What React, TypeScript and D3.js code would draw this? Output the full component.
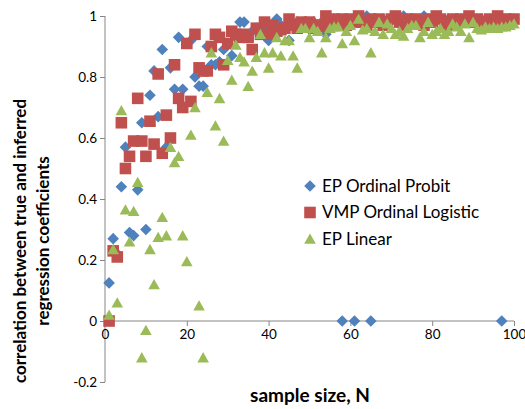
import React, { useRef, useEffect } from 'react';
import * as d3 from 'd3';

// sample sizes N = 1..100
const sampleSizes = d3.range(1, 101);

const epProbit = [
  0.125, 0.27, 0.22, 0.44, 0.57, 0.29, 0.28, 0.43, 0.65, 0.3,
  0.74, 0.82, 0.67, 0.89, 0.57, 0.83, 0.76, 0.93, 0.76, 0.91,
  0.92, 0.8, 0.77, 0.77, 0.9, 0.84, 0.84, 0.85, 0.89, 0.91,
  0.87, 0.93, 0.98, 0.98, 0.93, 0.95, 0.96, 0.95, 0.97, 0.92,
  0.96, 0.99, 0.97, 0.96, 0.92, 0.97, 0.98, 0.97, 0.98, 0.97,
  0.98, 0.97, 0.98, 0.94, 0.98, 0.99, 0.98, 0, 0.98, 0.97,
  0, 0.98, 0.99, 1.0, 0, 0.99, 0.98, 0.99, 0.98, 0.99,
  0.99, 0.98, 1.0, 0.99, 0.98, 0.99, 0.99, 1.0, 0.99, 0.98,
  0.99, 0.99, 0.98, 0.99, 0.99, 0.98, 0.99, 0.99, 0.99, 0.98,
  0.99, 0.99, 0.98, 0.99, 0.99, 0.99, 0, 0.99, 0.99, 0.99,
];

const vmpLogistic = [
  0, 0.23, 0.21, 0.65, 0.5, 0.54, 0.59, 0.73, 0.59, 0.54,
  0.655, 0.58, 0.81, 0.55, 0.675, 0.6, 0.84, 0.73, 0.7, 0.91,
  0.72, 0.94, 0.83, 0.82, 0.82, 0.9, 0.94, 0.93, 0.84, 0.91,
  0.95, 0.94, 0.93, 0.94, 0.93, 0.89, 0.96, 0.94, 0.98, 0.94,
  0.97, 0.95, 0.955, 0.96, 0.99, 0.97, 0.96, 0.98, 0.97, 0.98,
  0.96, 0.97, 0.965, 1.0, 0.98, 0.99, 0.98, 0.99, 0.97, 0.99,
  0.98, 1.0, 0.98, 0.97, 0.99, 0.98, 0.99, 0.97, 0.98, 0.99,
  1.0, 0.98, 0.97, 0.99, 0.98, 0.99, 0.98, 0.97, 0.99, 0.98,
  1.0, 0.99, 0.98, 0.97, 0.99, 0.98, 0.99, 0.98, 1.0, 0.98,
  0.99, 0.97, 0.98, 0.99, 0.98, 1.0, 0.98, 0.99, 0.98, 0.99,
];

const epLinear = [
  0.02, 0.235, 0.06, 0.69, 0.365, 0.26, 0.36, 0.455, -0.12, -0.03,
  0.235, 0.12, 0.275, 0.34, 0.28, 0.57, 0.52, 0.54, 0.28, 0.195,
  0.61, 0.7, 0.05, -0.12, 0.75, 0.88, 0.64, 0.73, 0.59, 0.855,
  0.79, 0.905, 0.865, 0.85, 0.77, 0.82, 0.865, 0.94, 0.88, 0.83,
  0.88, 0.93, 0.87, 0.92, 0.92, 0.87, 0.83, 0.96, 0.96, 0.93,
  0.96, 0.95, 0.88, 0.93, 0.96, 0.965, 0.965, 0.91, 0.95, 0.97,
  0.92, 0.99, 0.955, 0.96, 0.88, 0.95, 0.98, 0.94, 0.975, 0.96,
  0.94, 0.95, 0.935, 0.96, 0.97, 0.97, 0.93, 0.95, 0.98, 0.94,
  0.95, 0.96, 0.94, 0.95, 0.975, 0.965, 0.95, 0.975, 0.93, 0.98,
  0.96, 0.955, 0.965, 0.96, 0.965, 0.96, 0.965, 0.965, 0.97, 0.975,
];

const xTicks = [0, 20, 40, 60, 80, 100];
const yTicks = [-0.2, 0, 0.2, 0.4, 0.6, 0.8, 1];
const yTickLabels = ['-0.2', '0', '0.2', '0.4', '0.6', '0.8', '1'];

const seriesNames = ['EP Ordinal Probit', 'VMP Ordinal Logistic', 'EP Linear'];
const seriesValues = [epProbit, vmpLogistic, epLinear];
const seriesColors = ['#4F81BD', '#C0504D', '#9BBB59'];
const seriesShapes = ['diamond', 'square', 'triangle'];

const FONT = 'Lato, "Open Sans", sans-serif';

const shapePath = (shape: string) => {
  if (shape === 'diamond') return 'M0,-5.8L5.8,0L0,5.8L-5.8,0Z';
  if (shape === 'square') return 'M-5.8,-5.8H5.8V5.8H-5.8Z';
  return 'M0,-5.5L5.8,4.8H-5.8Z';
};

const App = () => {
  const svgRef = useRef<SVGSVGElement>(null);

  useEffect(() => {
    const width = 525;
    const height = 409;
    const svg = d3.select(svgRef.current)
      .attr('width', width)
      .attr('height', height)
      .style('background', 'white');

    svg.selectAll('*').remove();

    const x = d3.scaleLinear().domain([0, 100]).range([105, 514]);
    const y = d3.scaleLinear().domain([-0.2, 1]).range([382, 16]);

    const axisColor = '#868686';

    // y axis
    const yAxis = svg.append('g')
      .attr('transform', `translate(${x(0)},0)`)
      .call(d3.axisLeft(y).tickValues(yTicks).tickSize(5).tickFormat((d, i) => yTickLabels[i]));
    yAxis.select('.domain').attr('stroke', axisColor).attr('d', `M0,${y(-0.2)}V${y(1)}`);
    yAxis.selectAll('.tick line').attr('stroke', axisColor);
    yAxis.selectAll('.tick text')
      .attr('font-family', FONT)
      .attr('font-size', 13.5)
      .attr('fill', '#000')
      .attr('x', -8);

    // x axis at y = 0
    const xAxis = svg.append('g')
      .attr('transform', `translate(0,${y(0)})`)
      .call(d3.axisBottom(x).tickValues(xTicks).tickSize(5).tickFormat(d => String(d)));
    xAxis.select('.domain').attr('stroke', axisColor).attr('d', `M${x(0)},0H${x(100)}`);
    xAxis.selectAll('.tick line').attr('stroke', axisColor);
    xAxis.selectAll('.tick text')
      .attr('font-family', FONT)
      .attr('font-size', 13.5)
      .attr('fill', '#000')
      .attr('y', 8);

    // points
    seriesValues.forEach((vals, s) => {
      svg.append('g')
        .selectAll('path')
        .data(vals)
        .enter()
        .append('path')
        .attr('d', shapePath(seriesShapes[s]))
        .attr('transform', (d, i) => `translate(${x(sampleSizes[i])},${y(d)})`)
        .attr('fill', seriesColors[s]);
    });

    // legend
    const legend = svg.append('g');
    seriesNames.forEach((name, i) => {
      const ly = 186 + i * 26.5;
      legend.append('path')
        .attr('d', shapePath(seriesShapes[i]))
        .attr('transform', `translate(310,${ly})`)
        .attr('fill', seriesColors[i]);
      legend.append('text')
        .attr('x', 322)
        .attr('y', ly)
        .attr('dy', '0.35em')
        .attr('font-family', FONT)
        .attr('font-size', 17)
        .attr('fill', '#000')
        .text(name);
    });

    // axis titles
    svg.append('text')
      .attr('x', 310)
      .attr('y', 402)
      .attr('text-anchor', 'middle')
      .attr('font-family', FONT)
      .attr('font-weight', 'bold')
      .attr('font-size', 19)
      .attr('fill', '#000')
      .text('sample size, N');

    const yTitle = svg.append('text')
      .attr('transform', 'translate(0,241) rotate(-90)')
      .attr('text-anchor', 'middle')
      .attr('font-family', FONT)
      .attr('font-weight', 'bold')
      .attr('font-size', 17)
      .attr('fill', '#000');
    yTitle.append('tspan').attr('x', 0).attr('y', 26).text('correlation between true and inferred');
    yTitle.append('tspan').attr('x', 0).attr('y', 49).text('regression coefficients');
  }, []);

  return <svg ref={svgRef} style={{ position: 'absolute', left: 0, top: 0 }}></svg>;
};

export default App;
